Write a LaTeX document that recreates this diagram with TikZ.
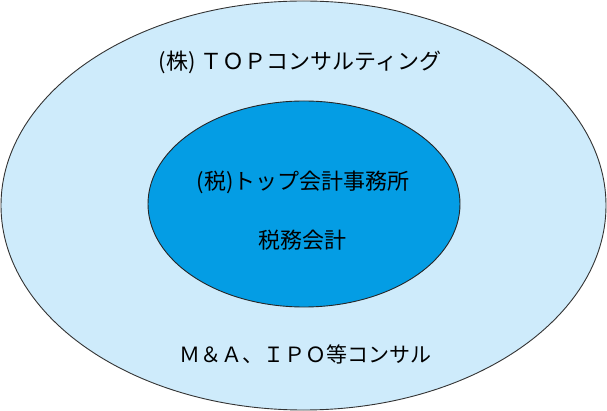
\documentclass[tikz,border=0pt]{standalone}
\usepackage{fontspec}
\usepackage{tikz}
\usetikzlibrary{positioning,shapes.geometric}
\newfontfamily\jpfont{Noto Sans CJK JP}
\definecolor{outerblue}{RGB}{206,235,251}
\definecolor{innerblue}{RGB}{4,157,228}
\tikzset{
  outerring/.style={
    ellipse,
    draw=black!80,
    fill=outerblue,
    line width=0.9pt,
    minimum width=605pt,
    minimum height=409pt,
    inner sep=0pt
  },
  innercore/.style={
    ellipse,
    draw=black!85,
    fill=innerblue,
    line width=0.9pt,
    minimum width=312pt,
    minimum height=206pt,
    inner sep=0pt
  },
  ringlabel/.style={
    font=\jpfont\fontsize{22pt}{26pt}\selectfont,
    inner sep=0pt,
    text=black
  }
}
\begin{document}
\begin{tikzpicture}[x=1pt,y=-1pt]
  \useasboundingbox (0,0) rectangle (607,411);
  \node[outerring] (group) at (303.5,205.5) {};
  \node[innercore] (office) at (304,204) {};
  \node[ringlabel] (consult) at (300,62) {(株) ＴＯＰコンサルティング};
  \node[ringlabel] (firm) at (303,182) {(税)トップ会計事務所};
  \node[ringlabel] (tax) at (302,240) {税務会計};
  \node[ringlabel, font=\jpfont\fontsize{21pt}{25pt}\selectfont] (mna) at (305,354) {Ｍ＆Ａ、ＩＰＯ等コンサル};
\end{tikzpicture}
\end{document}
